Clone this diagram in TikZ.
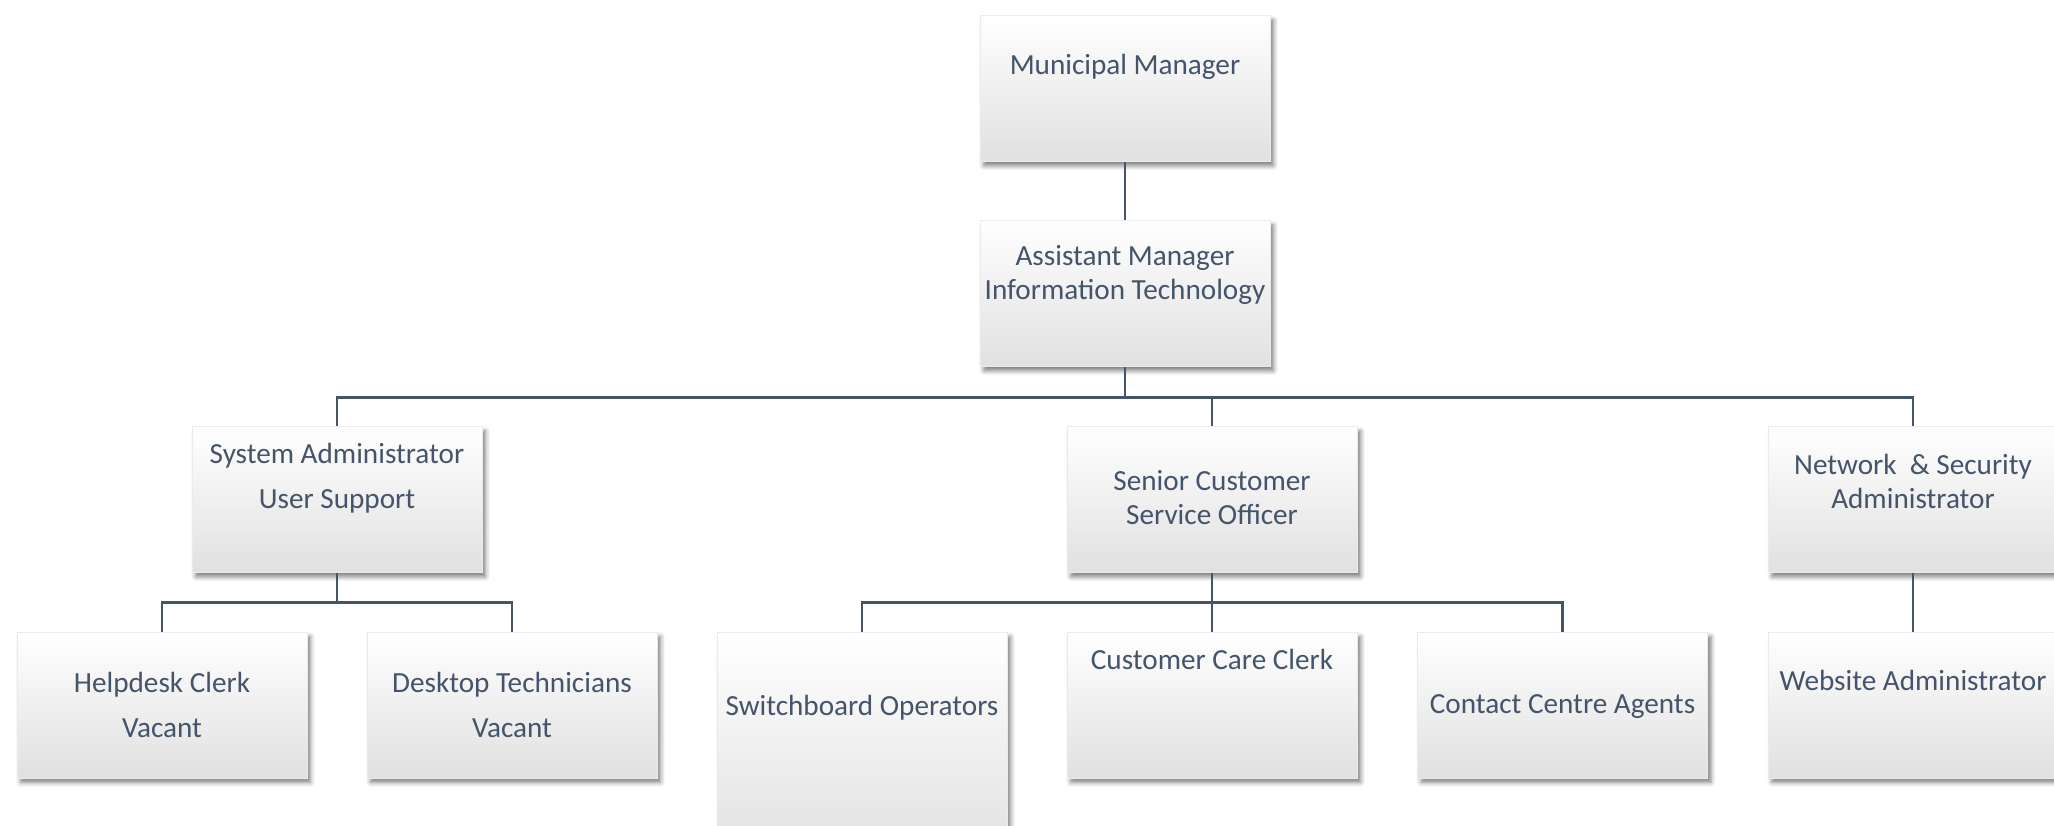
\documentclass[tikz,border=0pt]{standalone}
\usepackage{fontspec}
\setmainfont{Carlito}
\usepackage{tikz}
\usetikzlibrary{positioning,shadows.blur}
\definecolor{cText}{HTML}{44546A}
\definecolor{cLine}{HTML}{44546A}

\begin{document}
\begin{tikzpicture}[
  x=0.5pt,y=-0.5pt,
  font=\fontsize{14.6}{17}\selectfont,
  box/.style={rectangle,draw=black!8,line width=0.3pt,
              top color=white,middle color=white,bottom color=black!12,
              minimum width=145pt,minimum height=73pt,inner sep=0pt,
              blur shadow={shadow xshift=1.8pt,shadow yshift=-2.2pt,
                           shadow blur radius=2.2pt,shadow opacity=50}},
  txt/.style={text=cText,align=center,anchor=base,inner sep=0pt},
  a/.style={draw=cLine,line width=1.4pt},
]
\useasboundingbox (0,0) rectangle (2054,825);

% management
\node[box] (mm) at (1125,88.5) {};
\node[txt] (mm-t) at (1125,74) {Municipal Manager};
\node[box] (am) at (1125,293.5) {};
\node[txt] (am-t) at (1125,299) {Assistant Manager\\ Information Technology};

% second level
\node[box] (sa) at (337,499.5) {};
\node[txt] (sa-t) at (337,508) {System Administrator\\[5.5pt] User Support};
\node[box] (scso) at (1212,499.5) {};
\node[txt] (scso-t) at (1212,524) {Senior Customer\\ Service Officer};
\node[box] (nsa) at (1913,499.5) {};
\node[txt] (nsa-t) at (1913,508) {Network~ \& Security\\ Administrator};

% third level
\node[box] (hd) at (162,705) {};
\node[txt] (hd-t) at (162,737) {Helpdesk Clerk\\[5.5pt] Vacant};
\node[box] (dt) at (512,705) {};
\node[txt] (dt-t) at (512,737) {Desktop Technicians\\[5.5pt] Vacant};
\node[box,minimum height=115pt] (sw) at (862,747) {};
\node[txt] (sw-t) at (862,715) {Switchboard Operators};
\node[box] (ccc) at (1212,705) {};
\node[txt] (ccc-t) at (1212,669) {Customer Care Clerk};
\node[box] (cca) at (1562.5,705) {};
\node[txt] (cca-t) at (1562.5,713) {Contact Centre Agents};
\node[box] (wa) at (1913,705) {};
\node[txt] (wa-t) at (1913,690) {Website Administrator};

% connectors
\draw[a] (mm) -- (am);
\draw[a] (am.south) -- ++(0,31) -| (sa.north);
\draw[a] (am.south) -- ++(0,31) -| (scso.north);
\draw[a] (am.south) -- ++(0,31) -| (nsa.north);
\draw[a] (sa.south) -- ++(0,30) -| (hd.north);
\draw[a] (sa.south) -- ++(0,30) -| (dt.north);
\draw[a] (scso.south) -- ++(0,30) -| (sw.north);
\draw[a] (scso) -- (ccc);
\draw[a] (scso.south) -- ++(0,30) -| (cca.north);
\draw[a] (nsa) -- (wa);
\end{tikzpicture}
\end{document}
